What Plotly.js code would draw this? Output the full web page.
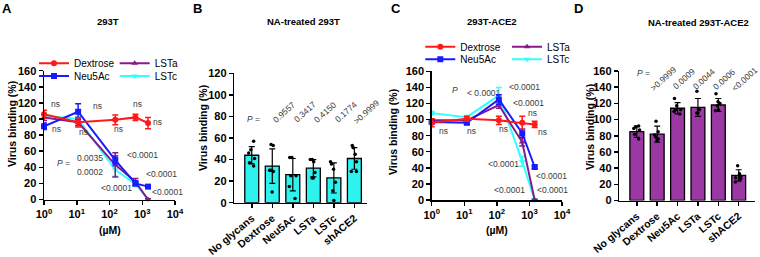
<!DOCTYPE html>
<html>
<head>
<meta charset="utf-8">
<script src="https://cdn.plot.ly/plotly-3.0.1.min.js"></script>
<style>html,body{margin:0;padding:0;background:#fff;}#chart{width:760px;height:257px;}</style>
</head>
<body>
<div id="chart"></div>
<script>
// ---------- DATA ----------
// Panel A (293T): concentrations (µM) and % virus binding (mean, SD)
const concA = [1, 11, 150, 620, 1500];
const dexA = [106, 96, 99, 102, 95];
const dexAErr = [5, 6, 6, 4, 7];
const neuA = [91, 109, 49, 20, 16];
const neuAErr = [4, 10, 5, 3, 2];
const lstaA = [102, 96, 43, 22, 0];
const lstaAErr = [4, 4, 15, 4, 1];
const lstcA = [104, 100, 37, 19, 0];
const lstcAErr = [3, 3, 8, 3, 1];

// Panel C (293T-ACE2)
const concC = [1, 12, 115, 600, 1450];
const dexC = [96, 101, 99, 96, 94];
const dexCErr = [5, 3, 5, 8, 4];
const neuC = [97, 96, 125, 83, 41];
const neuCErr = [2, 2, 6, 5, 2];
const lstaC = [99, 99, 118, 72, 0];
const lstaCErr = [2, 2, 4, 5, 1];
const lstcC = [108, 103, 130, 48, 0];
const lstcCErr = [2, 2, 10, 6, 1];

// Panel B & D categories
const cats = ['No glycans', 'Dextrose', 'Neu5Ac', 'LSTa', 'LSTc', 'shACE2'];

// Panel B (NA-treated 293T)
const bMean = [44, 34, 26, 32, 23, 41];
const bSD = [8, 16, 15, 8, 14, 10];
const bNoGly = [57, 49, 46, 41, 37, 34];
const bDex = [54, 53, 30, 30, 29, 10];
const bNeu = [42, 42, 25, 25, 15, 4];
const bLsta = [40, 40, 38, 28, 23, 23];
const bLstc = [38, 36, 31, 19, 11, 2];
const bSh = [53, 51, 45, 38, 29, 29];
const bP = ['0.9557', '0.3417', '0.4150', '0.1774', '&gt;0.9999'];

// Panel D (NA-treated 293T-ACE2)
const dMean = [85, 82, 114, 115, 118, 31];
const dSD = [7, 10, 7, 11, 8, 7];
const dNoGly = [92, 91, 89, 87, 82, 76];
const dDex = [98, 85, 81, 78, 76, 74];
const dNeu = [126, 117, 112, 112, 110, 107];
const dLsta = [135, 113, 112, 108, 108];
const dLstc = [132, 122, 120, 117, 112, 111];
const dSh = [43, 33, 30, 28, 27, 23];
const dP = ['&gt;0.9999', '0.0009', '0.0044', '0.0006', '&lt;0.0001'];

// ---------- STYLE ----------
const FF = 'Liberation Sans, Arial, Helvetica, sans-serif';
const RED = '#ff1a1a', BLUE = '#1a1aff', PURPLE = '#8a1a8a', CYAN = '#33ffff';
const BARCYAN = '#2ef2ee', BARPURPLE = '#9b38a3';
const ANN = '#3a3a3a';
const LT = '&lt;0.0001';

const W = 760, H = 257;
const px = v => v / W;
const py = v => 1 - v / H;

function lineTrace(name, x, y, err, color, symbol, xa, ya, leg) {
  return {
    type: 'scatter', mode: 'lines+markers', name, x, y,
    xaxis: xa, yaxis: ya, legend: leg, cliponaxis: false,
    line: {color, width: 2},
    marker: {color, symbol, size: 6},
    error_y: {type: 'data', array: err, visible: true, color, thickness: 1.5, width: 3}
  };
}

function barTraces(vals, mean, sd, color, xa, ya) {
  const xs = [], ys = [];
  vals.forEach((arr, i) => arr.forEach(v => { xs.push(cats[i]); ys.push(v); }));
  return [
    {type: 'bar', x: cats, y: mean, xaxis: xa, yaxis: ya, width: 0.68, showlegend: false,
     marker: {color, line: {color: '#000', width: 1.3}},
     error_y: {type: 'data', array: sd, visible: true, color: '#000', thickness: 1.2, width: 3}},
    {type: 'box', x: xs, y: ys, xaxis: xa, yaxis: ya, showlegend: false,
     boxpoints: 'all', jitter: 0.7, pointpos: 0, width: 0.5,
     fillcolor: 'rgba(0,0,0,0)', line: {width: 0, color: 'rgba(0,0,0,0)'}, whiskerwidth: 0,
     marker: {color: '#000', size: 3.5}, hoverinfo: 'skip'}
  ];
}

const data = [
  lineTrace('LSTc', concA, lstcA, lstcAErr, CYAN, 'triangle-down', 'x', 'y', 'legend4'),
  lineTrace('LSTa', concA, lstaA, lstaAErr, PURPLE, 'triangle-up', 'x', 'y', 'legend3'),
  lineTrace('Neu5Ac', concA, neuA, neuAErr, BLUE, 'square', 'x', 'y', 'legend2'),
  lineTrace('Dextrose', concA, dexA, dexAErr, RED, 'circle', 'x', 'y', 'legend'),
  ...barTraces([bNoGly, bDex, bNeu, bLsta, bLstc, bSh], bMean, bSD, BARCYAN, 'x2', 'y2'),
  lineTrace('LSTc', concC, lstcC, lstcCErr, CYAN, 'triangle-down', 'x3', 'y3', 'legend8'),
  lineTrace('LSTa', concC, lstaC, lstaCErr, PURPLE, 'triangle-up', 'x3', 'y3', 'legend7'),
  lineTrace('Neu5Ac', concC, neuC, neuCErr, BLUE, 'square', 'x3', 'y3', 'legend6'),
  lineTrace('Dextrose', concC, dexC, dexCErr, RED, 'circle', 'x3', 'y3', 'legend5'),
  ...barTraces([dNoGly, dDex, dNeu, dLsta, dLstc, dSh], dMean, dSD, BARPURPLE, 'x4', 'y4')
];

const tickF = {family: FF, size: 11, weight: 'bold', color: '#000'};
function yAx(d0, d1, range, anchor) {
  return {domain: [py(d0), py(d1)], range, anchor, dtick: 20, tick0: 0,
    ticks: 'outside', ticklen: 4, tickwidth: 1.5, tickcolor: '#000',
    showline: true, linewidth: 1.5, linecolor: '#000', showgrid: false, zeroline: false,
    tickfont: tickF, fixedrange: true};
}
function xLog(a, b, anchor) {
  return {domain: [px(a), px(b)], type: 'log', range: [0, 4], anchor,
    tickvals: [1, 10, 100, 1000, 10000],
    ticktext: ['10<sup>0</sup>', '10<sup>1</sup>', '10<sup>2</sup>', '10<sup>3</sup>', '10<sup>4</sup>'],
    ticks: 'outside', ticklen: 4, tickwidth: 1.5, tickcolor: '#000',
    showline: true, linewidth: 1.5, linecolor: '#000', showgrid: false, zeroline: false,
    tickfont: tickF, fixedrange: true};
}
function xCat(a, b, range, anchor) {
  return {domain: [px(a), px(b)], type: 'category', range, anchor,
    ticks: 'outside', ticklen: 4, tickwidth: 1.5, tickcolor: '#000', tickangle: -40,
    showline: true, linewidth: 1.5, linecolor: '#000', showgrid: false, zeroline: false,
    tickfont: {family: FF, size: 10.5, weight: 'bold', color: '#000'}, fixedrange: true};
}

function legendAt(xp, yp) {
  return {x: px(xp), y: py(yp), xanchor: 'left', yanchor: 'middle', bgcolor: 'rgba(0,0,0,0)',
    font: {family: FF, size: 10, color: '#000'}, itemwidth: 30, borderwidth: 0};
}

const ann = [];
function txt(text, x, y, xref, yref, opts) {
  ann.push(Object.assign({text, x, y, xref, yref, showarrow: false,
    font: {family: FF, size: 8.5, color: ANN}, xanchor: 'left', yanchor: 'middle'}, opts || {}));
}
function paperTxt(text, x, y, opts) {
  txt(text, px(x), py(y), 'paper', 'paper', opts);
}
const boldF = s => ({family: FF, size: s, weight: 'bold', color: '#000'});

// panel letters
paperTxt('A', 0, 8, {font: boldF(13)});
paperTxt('B', 191, 8, {font: boldF(13)});
paperTxt('C', 389, 8, {font: boldF(13)});
paperTxt('D', 572, 8, {font: boldF(13)});
// titles
paperTxt('293T', 108, 21, {font: boldF(9.5), xanchor: 'center'});
paperTxt('NA-treated 293T', 303, 21, {font: boldF(9.5), xanchor: 'center'});
paperTxt('293T-ACE2', 492, 21, {font: boldF(9.5), xanchor: 'center'});
paperTxt('NA-treated 293T-ACE2', 698, 22, {font: boldF(9.5), xanchor: 'center'});
// y titles
paperTxt('Virus binding (%)', 12, 124, {font: boldF(10.5), xanchor: 'center', textangle: -90});
paperTxt('Virus binding (%)', 203, 128, {font: boldF(10.5), xanchor: 'center', textangle: -90});
paperTxt('Virus binding (%)', 393, 132, {font: boldF(10.5), xanchor: 'center', textangle: -90});
paperTxt('Virus binding (%)', 590, 127, {font: boldF(10.5), xanchor: 'center', textangle: -90});
// x titles
paperTxt('(µM)', 110, 230, {font: boldF(10.5), xanchor: 'center'});
paperTxt('(µM)', 497, 230, {font: boldF(10.5), xanchor: 'center'});

// Panel A stats (x in log10 units)
[['ns', 0.154, 119], ['ns', 0.18, 88], ['ns', 1.44, 116], ['ns', 1.0, 84], ['ns', 2.08, 88],
 ['ns', 2.65, 119], ['ns', 3.28, 96.5], ['<i>P</i> =', 0.34, 45], ['0.0035', 0.95, 52],
 ['0.0002', 0.95, 34], [LT, 2.46, 55], [LT, 3.04, 31.5], [LT, 1.67, 13.7],
 [LT, 3.24, 9.5]].forEach(a => txt(a[0], a[1], a[2], 'x', 'y'));
// Panel C stats
[['<i>P</i>', 0.57, 136.6], ['&lt; 0.0001', 1.03, 133], [LT, 2.3, 141], [LT, 2.42, 121],
 ['ns', 2.89, 108], ['ns', 0.15, 86], ['ns', 1.03, 86], ['ns', 1.99, 88], ['ns', 3.2, 84],
 [LT, 1.68, 45], [LT, 3.15, 30], [LT, 1.86, 12.4], [LT, 3.17, 12.4]]
 .forEach(a => txt(a[0], a[1], a[2], 'x3', 'y3'));
// Panel B stats
txt('<i>P</i> =', 'No glycans', 78, 'x2', 'y2', {xshift: -7});
bP.forEach((p, i) => txt(p, cats[i + 1], 84, 'x2', 'y2', {xanchor: 'center', textangle: -42, xshift: 12}));
// Panel D stats
txt('<i>P</i> =', 'No glycans', 157, 'x4', 'y4', {xshift: -2});
dP.forEach((p, i) => txt(p, cats[i + 1], 150, 'x4', 'y4', {xanchor: 'center', textangle: -42, xshift: 6}));

const layout = {
  width: W, height: H, margin: {l: 0, r: 0, t: 0, b: 0},
  paper_bgcolor: '#fff', plot_bgcolor: 'rgba(0,0,0,0)',
  font: {family: FF, color: '#000'},
  showlegend: true, barmode: 'overlay', boxmode: 'overlay',
  xaxis: xLog(44, 175, 'y'),
  yaxis: yAx(199.5, 70.7, [0, 160], 'x'),
  xaxis2: xCat(234.3, 366.7, [-0.85, 5.6], 'y2'),
  yaxis2: yAx(202.7, 73.3, [0, 120], 'x2'),
  xaxis3: xLog(431.7, 562, 'y3'),
  yaxis3: yAx(200, 71.3, [0, 160], 'x3'),
  xaxis4: xCat(619.3, 755, [-0.86, 5.8], 'y4'),
  yaxis4: yAx(200.5, 71, [0, 160], 'x4'),
  legend: legendAt(34, 63.3),
  legend2: legendAt(34, 76),
  legend3: legendAt(114.7, 63.3),
  legend4: legendAt(114.7, 76),
  legend5: legendAt(420.3, 46.7),
  legend6: legendAt(420.3, 59.3),
  legend7: legendAt(507, 46.7),
  legend8: legendAt(507, 59.3),
  annotations: ann
};

Plotly.newPlot('chart', data, layout, {displayModeBar: false, staticPlot: true});
</script>
</body>
</html>
